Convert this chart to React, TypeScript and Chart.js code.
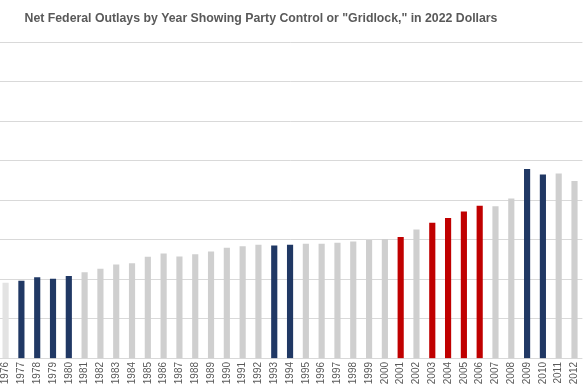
import { useEffect, useRef } from 'react';
import { Chart, registerables } from 'chart.js';

Chart.register(...registerables);

const years = [
  '1976', '1977', '1978', '1979', '1980', '1981', '1982', '1983', '1984', '1985',
  '1986', '1987', '1988', '1989', '1990', '1991', '1992', '1993', '1994', '1995',
  '1996', '1997', '1998', '1999', '2000', '2001', '2002', '2003', '2004', '2005',
  '2006', '2007', '2008', '2009', '2010', '2011', '2012',
];

// Net federal outlays, billions of 2022 dollars
const outlays = [
  1905, 1960, 2045, 2010, 2080, 2170, 2260, 2365, 2400, 2565,
  2645, 2570, 2625, 2695, 2790, 2830, 2870, 2845, 2870, 2895,
  2895, 2920, 2950, 2990, 3015, 3065, 3250, 3420, 3545, 3705,
  3850, 3840, 4035, 4780, 4640, 4670, 4480,
];

// P = partial/lighter, G = gridlock, D = Democratic control, R = Republican control
const control = [
  'P', 'D', 'D', 'D', 'D', 'G', 'G', 'G', 'G', 'G',
  'G', 'G', 'G', 'G', 'G', 'G', 'G', 'D', 'D', 'G',
  'G', 'G', 'G', 'G', 'G', 'R', 'G', 'R', 'R', 'R',
  'R', 'G', 'G', 'D', 'D', 'G', 'G',
];

const yMin = 0;
const yMax = 8000;
const yStep = 1000;

const colors: Record<string, string> = {
  P: '#e3e3e3',
  G: '#cfcfcf',
  D: '#203864',
  R: '#c00000',
};

const titleText = 'Net Federal Outlays by Year Showing Party Control or "Gridlock," in 2022 Dollars';

export default function App() {
  const ref = useRef<HTMLCanvasElement>(null);

  useEffect(() => {
    if (!ref.current) return;
    const chart = new Chart(ref.current, {
      type: 'bar',
      data: {
        labels: years,
        datasets: [
          {
            data: outlays,
            backgroundColor: control.map((c) => colors[c]),
            barThickness: 5.5,
          },
        ],
      },
      options: {
        animation: false,
        responsive: false,
        maintainAspectRatio: false,
        layout: { padding: 0 },
        plugins: {
          legend: { display: false },
          tooltip: { enabled: false },
          title: {
            display: true,
            text: titleText,
            color: '#595959',
            font: {
              family: "'Liberation Sans', Arial, sans-serif",
              size: 12.3,
              weight: 'bold',
              lineHeight: 1.2,
            },
            padding: { top: 11.6, bottom: 15.64 },
          },
        },
        scales: {
          x: {
            grid: { display: false, drawTicks: false },
            border: { display: false },
            ticks: {
              autoSkip: false,
              minRotation: 90,
              maxRotation: 90,
              padding: 3.5,
              color: '#595959',
              font: { family: "'Liberation Sans', Arial, sans-serif", size: 10 },
            },
            afterFit: (s: any) => {
              s.height = 31.5;
            },
          },
          y: {
            min: yMin,
            max: yMax,
            ticks: { stepSize: yStep, display: false },
            grid: { color: '#d9d9d9', drawTicks: false, lineWidth: 1 },
            border: { display: false },
            afterFit: (s: any) => {
              s.width = 65.7;
            },
          },
        },
      },
    });
    return () => chart.destroy();
  }, []);

  return (
    <div
      style={{
        position: 'fixed',
        left: 0,
        top: 0,
        width: 585,
        height: 390,
        overflow: 'hidden',
        background: '#ffffff',
      }}
    >
      <canvas
        ref={ref}
        width={658}
        height={390}
        style={{ position: 'absolute', left: -68, top: 0, width: 658, height: 390 }}
      />
    </div>
  );
}
